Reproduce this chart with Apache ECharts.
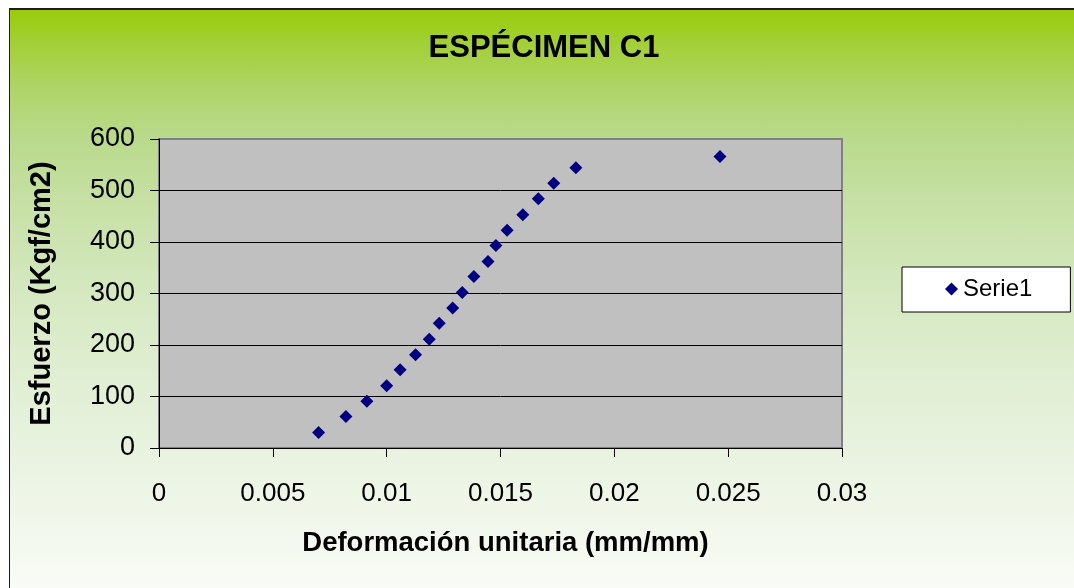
<!DOCTYPE html>
<html>
<head>
<meta charset="utf-8">
<script src="https://cdn.jsdelivr.net/npm/echarts@6/dist/echarts.min.js"></script>
<style>
  html, body { margin: 0; padding: 0; background: #ffffff; width: 1074px; height: 588px; overflow: hidden; }
  #frame {
    position: absolute; left: 9px; top: 8px; width: 1065px; height: 580px; box-sizing: border-box;
    border-top: 2px solid #1c1c1c; border-left: 1px solid #1c1c1c;
    background: linear-gradient(to bottom, #99CC0A 0%, #A3D038 6%, #AFD56A 14%, #B9DA8B 22%, #C8E1A8 35%, #D6E9C2 50%, #E1EFD4 65%, #EBF4E3 80%, #F9FCF6 100%);
  }
  #chart { position: absolute; left: 0; top: 0; width: 1074px; height: 588px; }
</style>
</head>
<body>
<div id="frame"></div>
<div id="chart"></div>
<script>
// Data
const strain = [0.00701, 0.00821, 0.00913, 0.01000, 0.01059, 0.01127, 0.01187, 0.01231, 0.01290, 0.01332,
                0.01383, 0.01445, 0.01480, 0.01529, 0.01598, 0.01666, 0.01734, 0.01831, 0.02464];
const stress = [30, 61, 91, 121, 152, 181, 211, 242, 272, 302,
                333, 362, 393, 423, 453, 484, 514, 544, 566];
const xTickLabels = ['0', '0.005', '0.01', '0.015', '0.02', '0.025', '0.03'];
const yTickLabels = ['0', '100', '200', '300', '400', '500', '600'];
const seriesName = 'Serie1';
const titleText = 'ESPÉCIMEN C1';
const xName = 'Deformación unitaria (mm/mm)';
const yName = 'Esfuerzo (Kgf/cm2)';

const points = strain.map((x, i) => [x, stress[i]]);
const FONT = '"Liberation Sans", Arial, sans-serif';

const chart = echarts.init(document.getElementById('chart'), null, { renderer: 'canvas' });
chart.setOption({
  backgroundColor: 'transparent',
  animation: false,
  title: {
    text: titleText,
    left: 544,
    top: 33,
    textAlign: 'center',
    padding: 0,
    textStyle: { fontFamily: FONT, fontSize: 31, fontWeight: 'bold', color: '#000' }
  },
  legend: {
    data: [{ name: seriesName, icon: 'diamond' }],
    left: 902,
    top: 267,
    orient: 'vertical',
    padding: [10, 38, 11, 43],
    backgroundColor: '#ffffff',
    borderColor: '#000000',
    borderWidth: 1,
    borderRadius: 0,
    itemWidth: 13,
    itemHeight: 13,
    itemGap: 5,
    itemStyle: { opacity: 1 },
    textStyle: { fontFamily: FONT, fontSize: 24, color: '#000' }
  },
  grid: {
    left: 159,
    right: 232,
    top: 139,
    bottom: 140,
    show: true,
    backgroundColor: '#C0C0C0',
    borderColor: '#808080',
    borderWidth: 2,
    containLabel: false,
    outerBoundsMode: 'none'
  },
  xAxis: {
    type: 'value',
    min: 0,
    max: 0.03,
    interval: 0.005,
    name: xName,
    nameLocation: 'middle',
    nameGap: 81,
    nameTextStyle: { fontFamily: FONT, fontSize: 27.5, fontWeight: 'bold', color: '#000', padding: [0, 0, 0, 10] },
    axisLine: { show: true, onZero: false, lineStyle: { color: '#000', width: 1 } },
    axisTick: { show: true, inside: false, length: 9, lineStyle: { color: '#000', width: 1 } },
    axisLabel: {
      fontFamily: FONT, fontSize: 26, color: '#000', margin: 33,
      formatter: (v, i) => xTickLabels[i] !== undefined ? xTickLabels[i] : String(v)
    },
    splitLine: { show: false }
  },
  yAxis: {
    type: 'value',
    min: 0,
    max: 600,
    interval: 100,
    name: yName,
    nameLocation: 'middle',
    nameRotate: 90,
    nameGap: 103,
    nameTextStyle: { fontFamily: FONT, fontSize: 29, fontWeight: 'bold', color: '#000' },
    axisLine: { show: true, onZero: false, lineStyle: { color: '#000', width: 1 } },
    axisTick: { show: true, inside: false, length: 9, lineStyle: { color: '#000', width: 1 } },
    axisLabel: {
      fontFamily: FONT, fontSize: 27, color: '#000', margin: 24,
      formatter: (v, i) => yTickLabels[i] !== undefined ? yTickLabels[i] : String(v)
    },
    splitLine: {
      show: true,
      lineStyle: { color: ['#000', '#000', '#000', '#000', '#000', '#000', '#808080'], width: 1 }
    }
  },
  series: [{
    name: seriesName,
    type: 'scatter',
    symbol: 'diamond',
    symbolSize: 13,
    itemStyle: { color: '#000080', opacity: 1 },
    data: points
  }]
});
</script>
</body>
</html>
